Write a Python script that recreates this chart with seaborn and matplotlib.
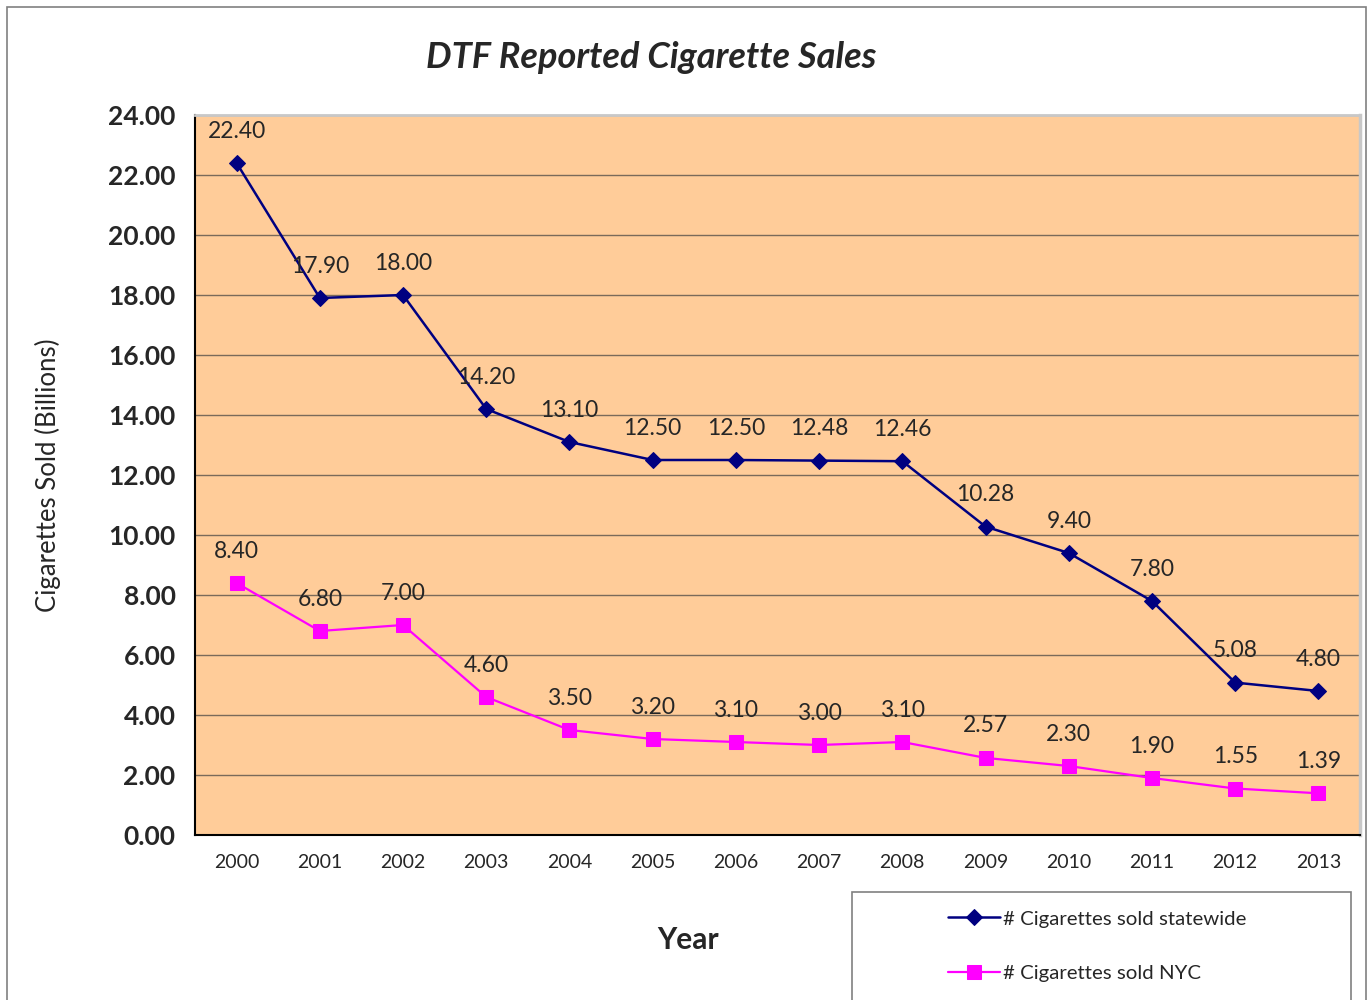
import pandas as pd
import seaborn as sns
import matplotlib.pyplot as plt
from matplotlib.patches import Rectangle
from matplotlib.ticker import FormatStrFormatter, MultipleLocator

# --- Data (billions of cigarettes) ---
years = [2000, 2001, 2002, 2003, 2004, 2005, 2006, 2007, 2008, 2009, 2010, 2011, 2012, 2013]
statewide = [22.40, 17.90, 18.00, 14.20, 13.10, 12.50, 12.50, 12.48, 12.46, 10.28, 9.40, 7.80, 5.08, 4.80]
nyc = [8.40, 6.80, 7.00, 4.60, 3.50, 3.20, 3.10, 3.00, 3.10, 2.57, 2.30, 1.90, 1.55, 1.39]
label_state = "# Cigarettes sold statewide"
label_nyc = "# Cigarettes sold NYC"

df = pd.DataFrame({"Year": years, "statewide": statewide, "nyc": nyc})

sns.set_style("white")
plt.rcParams["font.family"] = ["Lato", "DejaVu Sans"]

fig = plt.figure(figsize=(13.69, 10), dpi=100)
ax = fig.add_axes([195 / 1369, 1 - 835 / 1000, (1360 - 195) / 1369, (835 - 115) / 1000])
ax.set_facecolor("#FFCC99")

# outer chart border
fig.patches.append(Rectangle((7 / 1369, -0.01), (1366 - 7) / 1369, 1.0 - 0.007 + 0.01,
                             transform=fig.transFigure, fill=False,
                             edgecolor="#808080", linewidth=1.2))

navy = "#000080"
pink = "#FF00FF"

sns.lineplot(data=df, x="Year", y="statewide", ax=ax, color=navy, linewidth=1.8,
             marker="D", markersize=8.5, markeredgecolor=navy, label=label_state, legend=False)
sns.lineplot(data=df, x="Year", y="nyc", ax=ax, color=pink, linewidth=1.6,
             marker="s", markersize=10, markeredgecolor=pink, label=label_nyc, legend=False)

# data labels
for x, y in zip(years, statewide):
    ax.annotate(f"{y:.2f}", (x, y), xytext=(0, 23), textcoords="offset points",
                ha="center", va="center", fontsize=16.5)
for x, y in zip(years, nyc):
    ax.annotate(f"{y:.2f}", (x, y), xytext=(0, 23), textcoords="offset points",
                ha="center", va="center", fontsize=16.5)

# axes
ax.set_ylim(0, 24)
ax.yaxis.set_major_locator(MultipleLocator(2))
ax.yaxis.set_major_formatter(FormatStrFormatter("%.2f"))
ax.grid(axis="y", color="#7a6a5a", linewidth=1)
ax.set_axisbelow(True)

ax.set_xlim(years[0] - 0.5, years[-1] + 0.5)
ax.set_xticks(years)
ax.set_xticklabels([str(y) for y in years])
ax.set_xticks([y - 0.5 for y in years] + [years[-1] + 0.5], minor=True)
ax.tick_params(axis="x", which="major", length=0, pad=14, labelsize=14)
ax.tick_params(axis="x", which="minor", length=8, width=1, color="#808080", direction="out")
ax.tick_params(axis="y", which="major", length=8, width=1, color="#808080", direction="out",
               labelsize=19, pad=6)
for t in ax.get_yticklabels():
    t.set_fontweight("bold")

ax.set_xlabel("")
ax.set_ylabel("")
for side in ["left", "bottom"]:
    ax.spines[side].set_color("black")
    ax.spines[side].set_linewidth(1.5)
ax.spines["top"].set_color("#c8c8c8")
ax.spines["top"].set_linewidth(2)
ax.spines["right"].set_color("#c8c8c8")
ax.spines["right"].set_linewidth(2.5)

# titles
fig.text(651 / 1369, 1 - 57 / 1000, "DTF Reported Cigarette Sales", ha="center", va="center",
         fontsize=26, fontweight="bold", fontstyle="italic")
fig.text(48 / 1369, 1 - 475 / 1000, "Cigarettes Sold (Billions)", ha="center", va="center",
         rotation=90, fontsize=18.5)
fig.text(688 / 1369, 1 - 940 / 1000, "Year", ha="center", va="center",
         fontsize=21.5, fontweight="bold")

# legend box
fig.patches.append(Rectangle((852 / 1369, -0.02), (1351 - 852) / 1369, 0.02 + (1000 - 892) / 1000,
                             transform=fig.transFigure, fill=True, facecolor="white",
                             edgecolor="#808080", linewidth=1.2))
handles, labels = ax.get_legend_handles_labels()
fig.legend(handles, labels, loc="upper left", bbox_to_anchor=(938 / 1369, 1 - 900 / 1000),
           frameon=False, fontsize=14.7, handlelength=2.55, handletextpad=0.15,
           labelspacing=1.83, borderpad=0)

fig.savefig("out.png", dpi=100)
